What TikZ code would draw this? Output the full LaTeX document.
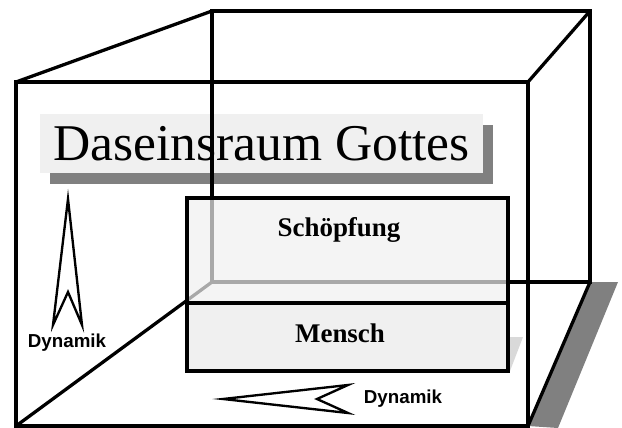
\documentclass[tikz,border=0pt]{standalone}
\usepackage{fontspec}
\setmainfont{Liberation Serif}
\setsansfont{Liberation Sans}
\usetikzlibrary{shadows}
\definecolor{boxgray}{HTML}{F0F0F0}
\definecolor{shadowgray}{HTML}{808080}
\tikzset{
  edge/.style={line width=2.8pt, line join=miter},
  titlebox/.style={fill=boxgray, minimum width=13.29cm, minimum height=1.77cm,
    inner sep=0pt, font=\fontsize{44}{46}\selectfont,
    drop shadow={shadow xshift=0.31cm, shadow yshift=-0.33cm, fill=shadowgray, opacity=1}},
  layerbox/.style={draw, line width=2.8pt, minimum width=9.63cm, inner sep=0pt},
  layertext/.style={font=\bfseries\fontsize{23}{25}\selectfont},
  needle/.style={draw, fill=white, line width=2pt, line join=miter},
  dyn/.style={font=\sffamily\bfseries\fontsize{16}{18}\selectfont}
}
\begin{document}
\begin{tikzpicture}[x=0.03cm, y=-0.03cm]
  \useasboundingbox (0,0) rectangle (622,428);
  % corners of the cube
  \path
    (16,82) coordinate (F1) (528,82) coordinate (F2)
    (528,426) coordinate (F3) (16,426) coordinate (F4)
    (212,11) coordinate (B1) (590,11) coordinate (B2)
    (590,282) coordinate (B3) (212,282) coordinate (B4)
    ;
  %\draw[gray!0] (0,0) grid[step=50] (622,428);
  \fill[shadowgray] (B3) -- (618,282) -- (558,428) -- (F3) -- cycle;
  \node[titlebox] (title) at (261.5,143.5) {Daseinsraum Gottes};
  \draw[edge] (F1) rectangle (F3) (B1) rectangle (B3);
  \draw[edge] (F1)--(B1) (F2)--(B2) (F3)--(B3) (F4)--(B4);
  \fill[gray!30] (508,337) -- (523,337) -- (510,371) -- (508,371) -- cycle;
  \node[layerbox, fill=boxgray, fill opacity=0.7, draw opacity=1,
    minimum height=3.15cm] (schoepfung) at (347.5,250.5) {};
  \node[layerbox, fill=boxgray, minimum height=2.04cm] (mensch) at (347.5,337) {};
  \node[layertext] (schoepfungtext) at (339,230) {Schöpfung};
  \node[layertext] (menschtext) at (340,333) {Mensch};
  % Dynamik
  \draw[needle] (68,199) -- (82,325) -- (68,292) -- (53,325) -- cycle;
  \draw[needle] (223,399) -- (348,385) -- (317,399) -- (348,413) -- cycle;
  \node[dyn] (dynup) at (67,343) {Dynamik};
  \node[dyn] (dynleft) at (403,399) {Dynamik};
\end{tikzpicture}
\end{document}
